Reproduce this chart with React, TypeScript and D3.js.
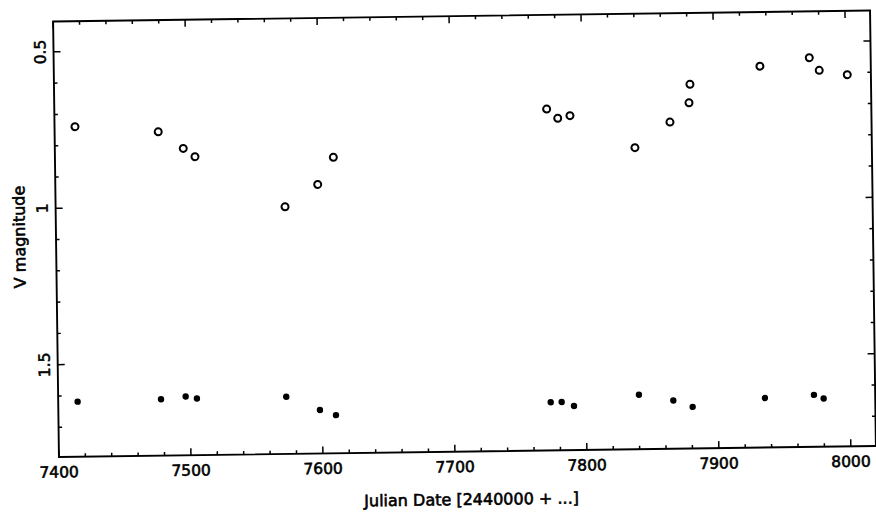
import React from 'react';
import * as d3 from 'd3';

// open circles (upper series) : Julian Date - 2440000, V magnitude
const brightDates = [7415.5, 7478.5, 7497.3, 7506.1, 7573.8, 7598.8, 7610.9, 7773.0, 7781.3, 7790.6, 7839.5, 7866.3, 7880.9, 7881.8, 7935.0, 7972.5, 7979.9, 8001.1];
const brightMags = [0.740, 0.760, 0.814, 0.841, 1.005, 0.935, 0.849, 0.704, 0.734, 0.726, 0.831, 0.751, 0.690, 0.631, 0.576, 0.551, 0.592, 0.607];

// filled dots (lower series)
const faintDates = [7414.7, 7477.9, 7496.6, 7505.1, 7572.8, 7598.2, 7610.3, 7773.1, 7781.4, 7790.7, 7840.0, 7866.0, 7880.6, 7935.4, 7972.6, 7979.9];
const faintMags = [1.619, 1.615, 1.607, 1.614, 1.612, 1.656, 1.673, 1.641, 1.641, 1.654, 1.621, 1.641, 1.662, 1.637, 1.629, 1.641];

const xMajor = [7400, 7500, 7600, 7700, 7800, 7900, 8000];
const yMajor = [0.5, 1, 1.5];

const W = 876;
const H = 516;
const font = "'DejaVu Sans', sans-serif";

export default function App() {
  const left = 56, right = 873, top = 16, bottom = 451.5;
  const x = d3.scaleLinear().domain([7400, 8019]).range([left, right]);
  const y = d3.scaleLinear().domain([0.403, 1.795]).range([top, bottom]);

  const xMinor = d3.range(7400, 8019, 20).filter(v => v % 100 !== 0);
  const yMinor = d3.range(5, 18).map(v => v / 10).filter(v => !yMajor.includes(v));

  const major = 7, minor = 3.5;
  const ink = '#000';
  const textInk = { fill: ink, stroke: ink, strokeWidth: 0.6 };

  return (
    <svg width={W} height={H} style={{ position: 'absolute', left: 0, top: 0, background: '#fff' }}>
      {/* the scan is slightly tilted */}
      <g transform="rotate(-0.77 466 234)">
        <rect x={left} y={top} width={right - left} height={bottom - top} fill="none" stroke={ink} strokeWidth={1.9} />

        {/* x ticks, bottom and top, pointing inward */}
        {xMajor.concat(xMinor).map(v => {
          const len = xMajor.includes(v) ? major : minor;
          return (
            <g key={'xt' + v} stroke={ink} strokeWidth={1.5}>
              <line x1={x(v)} x2={x(v)} y1={bottom} y2={bottom - len} />
              <line x1={x(v)} x2={x(v)} y1={top} y2={top + len} />
            </g>
          );
        })}
        {/* y ticks, left and right */}
        {yMajor.concat(yMinor).map(v => {
          const len = yMajor.includes(v) ? major : minor;
          return (
            <g key={'yt' + v} stroke={ink} strokeWidth={1.5}>
              <line x1={left} x2={left + len} y1={y(v)} y2={y(v)} />
              <line x1={right} x2={right - len} y1={y(v)} y2={y(v)} />
            </g>
          );
        })}

        {xMajor.map(v => (
          <text key={'xl' + v} x={x(v)} y={472} textAnchor="middle" fontFamily={font} fontSize={15.5} {...textInk}>{v}</text>
        ))}
        {yMajor.map(v => (
          <text key={'yl' + v} transform={`translate(48,${y(v)}) rotate(-90)`} textAnchor="middle"
            fontFamily={font} fontSize={15.5} {...textInk}>{String(v)}</text>
        ))}

        <text x={468} y={505} textAnchor="middle" fontFamily={font} fontSize={16} {...textInk}>
          Julian Date [2440000 + ...]
        </text>
        <text transform="translate(25,231) rotate(-90)" textAnchor="middle" fontFamily={font} fontSize={16}
          {...textInk}>V magnitude</text>

        {brightDates.map((d, i) => (
          <circle key={'b' + i} cx={x(d)} cy={y(brightMags[i])} r={3.5} fill="none" stroke={ink} strokeWidth={2} />
        ))}
        {faintDates.map((d, i) => (
          <circle key={'f' + i} cx={x(d)} cy={y(faintMags[i])} r={3.2} fill={ink} />
        ))}
      </g>
    </svg>
  );
}
